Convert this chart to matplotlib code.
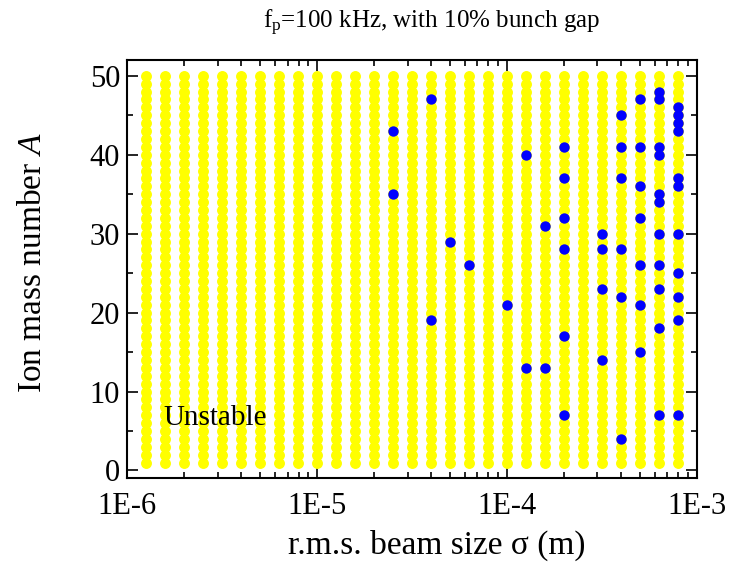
import numpy as np
import matplotlib
matplotlib.use("Agg")
import matplotlib.pyplot as plt
from matplotlib.ticker import MultipleLocator, LogLocator, NullFormatter, FixedLocator

plt.rcParams['font.family'] = ['Liberation Serif', 'DejaVu Serif']
plt.rcParams['mathtext.fontset'] = 'custom'
plt.rcParams['mathtext.rm'] = 'Liberation Serif'
plt.rcParams['mathtext.it'] = 'Liberation Serif:italic'

# scanned r.m.s. beam sizes (m)
sigma = [1.26e-6, 1.58e-6, 2.00e-6, 2.51e-6, 3.16e-6, 3.98e-6, 5.01e-6, 6.31e-6, 7.94e-6,
         1.00e-5, 1.26e-5, 1.58e-5, 2.00e-5, 2.51e-5, 3.16e-5, 3.98e-5, 5.01e-5, 6.31e-5, 7.94e-5,
         1.00e-4, 1.26e-4, 1.58e-4, 2.00e-4, 2.51e-4, 3.16e-4, 3.98e-4, 5.01e-4, 6.31e-4, 7.94e-4]
# scanned ion mass numbers
ion_A = np.arange(1, 51)

# stable cases (blue), ion masses per beam size
stable = {
    2.51e-5: [43, 35],
    3.98e-5: [47, 19],
    5.01e-5: [29],
    6.31e-5: [26],
    1.00e-4: [21],
    1.26e-4: [40, 13],
    1.58e-4: [31, 13],
    2.00e-4: [41, 37, 32, 28, 17, 7],
    3.16e-4: [30, 28, 23, 14],
    3.98e-4: [45, 41, 37, 28, 22, 4],
    5.01e-4: [47, 41, 36, 32, 26, 21, 15],
    6.31e-4: [48, 47, 41, 40, 35, 34, 30, 26, 23, 18, 7],
    7.94e-4: [46, 45, 44, 43, 37, 36, 30, 25, 22, 19, 7],
}

fig = plt.figure(figsize=(7.36, 5.63), dpi=100)
ax = fig.add_axes([0.1726, 0.1504, 0.774, 0.743])

# unstable grid (yellow)
gx, gy = np.meshgrid(sigma, ion_A)
ax.scatter(gx.ravel(), gy.ravel(), s=62, color='#FFFF00', linewidths=0, zorder=2)

# stable points (blue)
bx = [s for s, masses in stable.items() for _ in masses]
by = [a for masses in stable.values() for a in masses]
ax.scatter(bx, by, s=56, color='#0000FF', linewidths=0, zorder=3)

ax.set_xscale('log')
ax.set_xlim(1e-6, 1e-3)
ax.set_ylim(-1, 52)

ax.xaxis.set_major_locator(FixedLocator([1e-6, 1e-5, 1e-4, 1e-3]))
ax.xaxis.set_minor_locator(LogLocator(base=10, subs=np.arange(2, 10)))
ax.xaxis.set_minor_formatter(NullFormatter())
ax.set_xticklabels(['1E-6', '1E-5', '1E-4', '1E-3'])
ax.yaxis.set_major_locator(MultipleLocator(10))
ax.yaxis.set_minor_locator(MultipleLocator(5))

ax.tick_params(which='both', direction='in', top=True, right=True, width=1.2, labelsize=22)
ax.tick_params(which='major', length=8)
ax.tick_params(which='minor', length=4.5)
ax.tick_params(axis='x', which='major', pad=10)
ax.tick_params(axis='y', which='major', pad=5)
for sp in ax.spines.values():
    sp.set_linewidth(1.5)

ax.text(1.55e-6, 5.7, 'Unstable', fontsize=21, ha='left', va='baseline', zorder=4)

fig.text(0.594, 0.016, 'r.m.s. beam size σ (m)', fontsize=24, ha='center', va='baseline')
fig.text(0.045, 0.533, r'Ion mass number $\mathit{A}$', fontsize=24, rotation=90,
         ha='center', va='center')
fig.text(0.587, 0.95, r'f$_\mathregular{p}$=100 kHz, with 10% bunch gap', fontsize=18,
         ha='center', va='baseline')

fig.savefig('out.png', dpi=100)
